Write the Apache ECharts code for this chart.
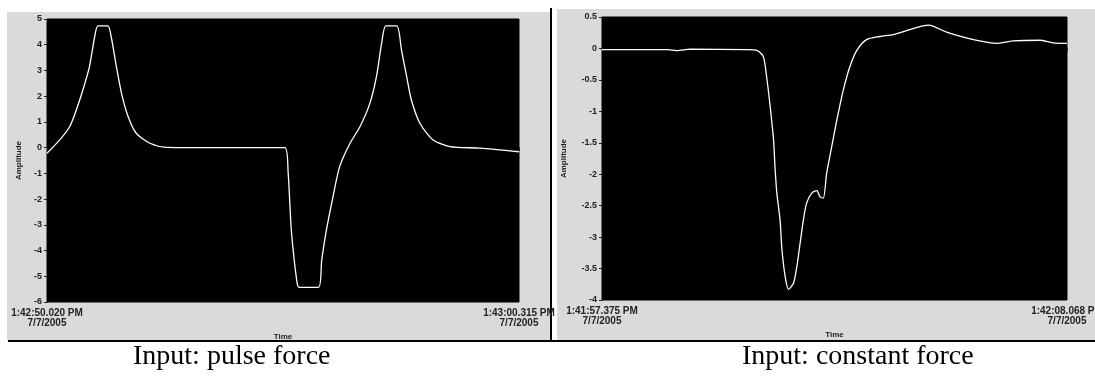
<!DOCTYPE html>
<html>
<head>
<meta charset="utf-8">
<script src="https://cdn.jsdelivr.net/npm/echarts@6/dist/echarts.min.js"></script>
<style>
  html, body { margin: 0; padding: 0; background: #fff; }
  #chart { width: 1095px; height: 382px; }
</style>
</head>
<body>
<div id="chart"></div>
<script>
// pulse force response (x = % of record time)
const pulseX = [0, 2.7, 4.8, 6.2, 7.6, 9.0, 10.1, 10.8, 12.9, 13.6, 14.7, 15.8, 17.2, 18.9, 21.8, 25.3, 33.8,
  50.4, 51.1, 51.4, 51.8, 52.9, 53.4, 57.5, 58.2, 59.2, 60.6, 62.0, 64.2, 66.3, 68.4, 69.8, 70.9, 71.8, 74.1,
  75.1, 76.2, 77.2, 79.0, 81.8, 85.4, 91.7, 100]
const pulseY = [-0.22, 0.3, 0.81, 1.46, 2.24, 3.15, 4.31, 4.73, 4.73, 4.31, 3.15, 2.1, 1.2, 0.56, 0.17, 0.01, 0,
  0, -1, -2, -3.3, -5.15, -5.43, -5.43, -4.37, -3.2, -1.9, -0.74, 0.17, 0.81, 1.72, 2.76, 4.06, 4.73, 4.73,
  3.8, 2.76, 1.85, 0.95, 0.3, 0.04, -0.02, -0.16]

// constant force response
const constX = [0, 14.0, 16.1, 19.0, 31.1, 33.3, 34.7, 35.4, 36.1, 36.9, 37.2, 37.6, 38.3, 38.7, 39.4, 40.1, 41.2,
  41.9, 42.6, 43.3, 44.0, 45.1, 46.2, 46.9, 47.6, 48.3, 49.4, 50.5, 51.9, 53.3, 54.8, 56.9, 59.8, 62.6, 66.2,
  70.2, 74.1, 77.7, 81.2, 84.8, 88.4, 94.1, 97.0, 100]
const constY = [-0.02, -0.02, -0.035, -0.01, -0.02, -0.03, -0.13, -0.45, -0.88, -1.46, -1.88, -2.3, -2.73, -3.2, -3.63,
  -3.83, -3.73, -3.47, -3.1, -2.73, -2.46, -2.3, -2.26, -2.36, -2.38, -1.99, -1.56, -1.14, -0.66, -0.29, -0.03,
  0.14, 0.19, 0.22, 0.30, 0.37, 0.26, 0.18, 0.12, 0.08, 0.12, 0.13, 0.09, 0.08]

const pulseTimes = ['1:42:50.020 PM\n7/7/2005', '1:43:00.315 PM\n7/7/2005']
const constTimes = ['1:41:57.375 PM\n7/7/2005', '1:42:08.068 PM\n7/7/2005']
const captions = ['Input: pulse force', 'Input: constant force']

const chart = echarts.init(document.getElementById('chart'))

const labelStyle = { fontSize: 9, fontWeight: 'bold', color: '#222', fontFamily: 'Liberation Sans' }

function xAxisFor(gridIndex, times) {
  return {
    gridIndex,
    type: 'value',
    min: 0,
    max: 100,
    interval: 100,
    name: 'Time',
    nameLocation: 'middle',
    nameGap: 29,
    nameTextStyle: { ...labelStyle, fontSize: 8 },
    axisLine: { lineStyle: { color: '#000' } },
    axisTick: { length: 3, lineStyle: { color: '#222' } },
    splitLine: { show: false },
    axisLabel: {
      ...labelStyle,
      fontSize: 10,
      lineHeight: 10,
      margin: 6,
      formatter: (v) => (v === 0 ? times[0] : times[1]),
    },
  }
}

function yAxisFor(gridIndex, min, max, interval, gap) {
  return {
    gridIndex,
    type: 'value',
    min,
    max,
    interval,
    name: 'Amplitude',
    nameLocation: 'middle',
    nameRotate: 90,
    nameGap: gap,
    nameTextStyle: { ...labelStyle, fontSize: 8 },
    axisLine: { show: true, lineStyle: { color: '#000' } },
    axisTick: { show: true, length: 3, lineStyle: { color: '#222' } },
    splitLine: { show: false },
    axisLabel: { ...labelStyle, margin: 5 },
  }
}

function lineSeries(i, xs, ys) {
  return {
    type: 'line',
    xAxisIndex: i,
    yAxisIndex: i,
    data: xs.map((x, k) => [x, ys[k]]),
    symbol: 'none',
    smooth: 0.25,
    lineStyle: { color: '#fff', width: 1.3 },
    silent: true,
  }
}

chart.setOption({
  animation: false,
  backgroundColor: '#fff',
  graphic: [
    { type: 'rect', shape: { x: 7, y: 12, width: 544, height: 328 }, style: { fill: '#dadada' }, z: -10 },
    { type: 'rect', shape: { x: 557, y: 9, width: 538, height: 331 }, style: { fill: '#dadada' }, z: -10 },
    { type: 'line', shape: { x1: 551, y1: 8, x2: 551, y2: 341 }, style: { stroke: '#000', lineWidth: 2 } },
    { type: 'line', shape: { x1: 8, y1: 341, x2: 1095, y2: 341 }, style: { stroke: '#000', lineWidth: 2 } },
    {
      type: 'text', left: 133, top: 343,
      style: { text: captions[0], font: '28px "Liberation Serif"', fill: '#000' },
    },
    {
      type: 'text', left: 742, top: 343,
      style: { text: captions[1], font: '28px "Liberation Serif"', fill: '#000' },
    },
  ],
  grid: [
    { left: 47, top: 19, width: 472, height: 283, show: true, backgroundColor: '#000', borderColor: '#000',
      outerBoundsMode: 'none' },
    { left: 602, top: 17, width: 465, height: 283, show: true, backgroundColor: '#000', borderColor: '#000',
      outerBoundsMode: 'none' },
  ],
  xAxis: [xAxisFor(0, pulseTimes), xAxisFor(1, constTimes)],
  yAxis: [yAxisFor(0, -6, 5, 1, 24), yAxisFor(1, -4, 0.5, 0.5, 34)],
  series: [lineSeries(0, pulseX, pulseY), lineSeries(1, constX, constY)],
})
</script>
</body>
</html>
